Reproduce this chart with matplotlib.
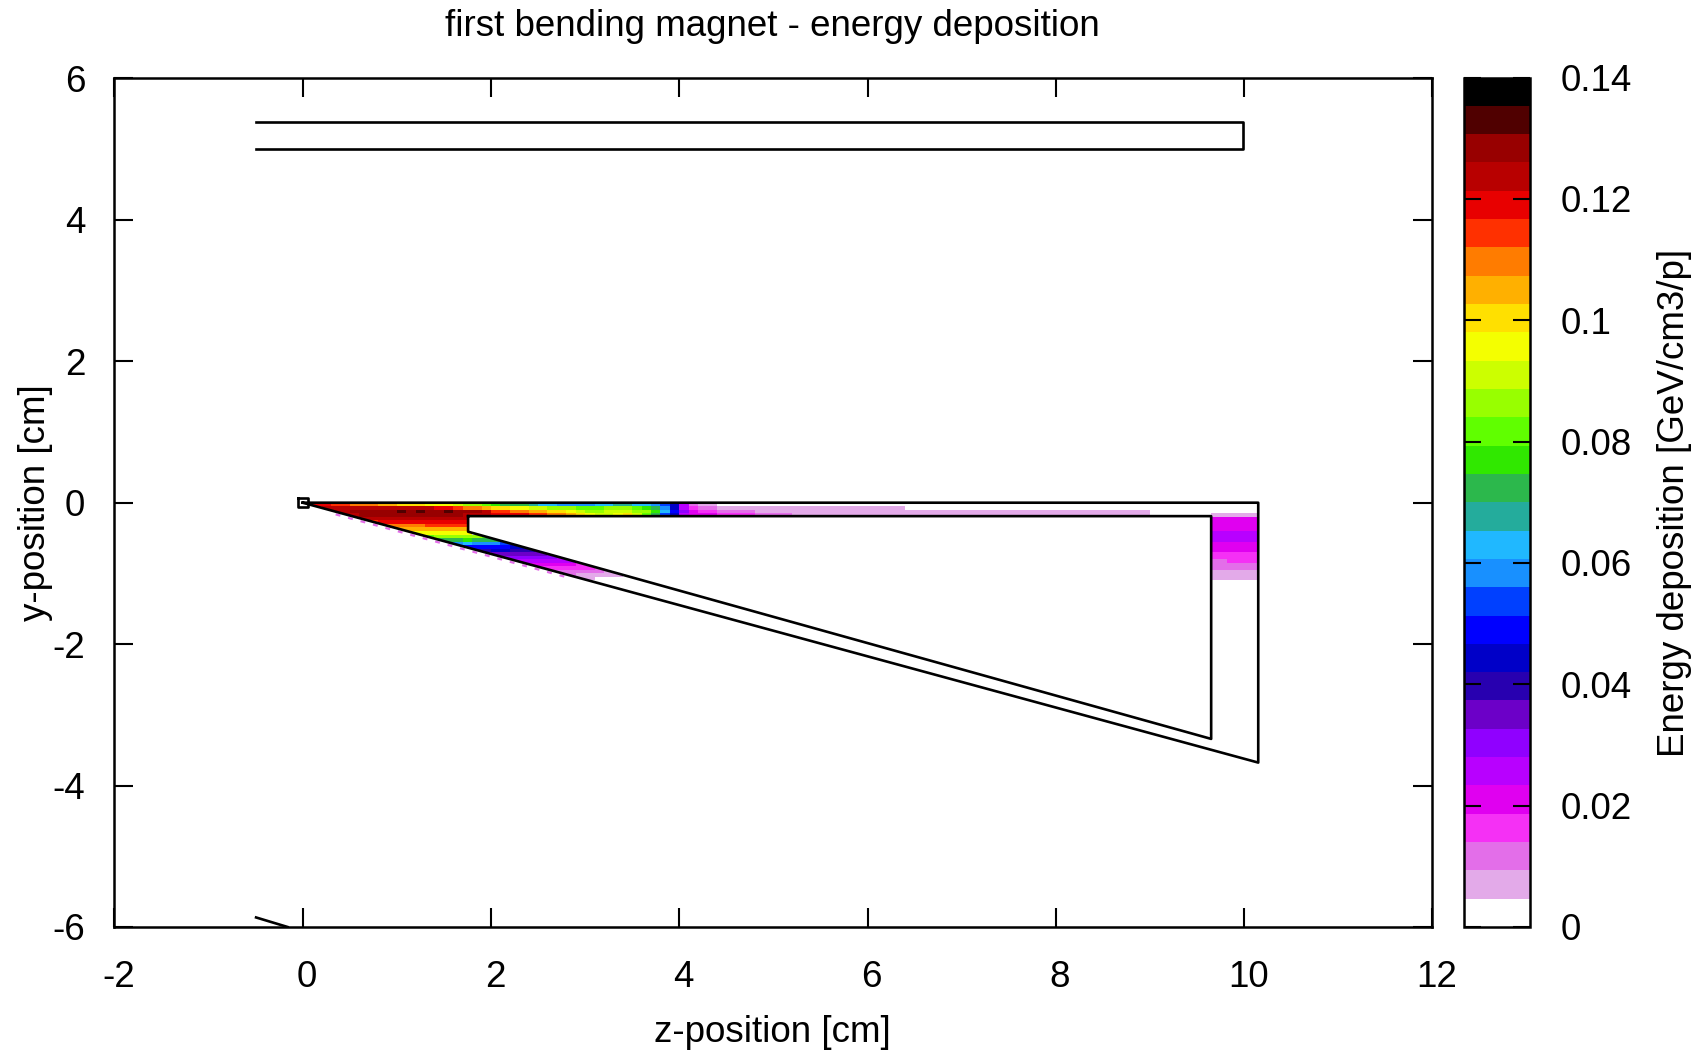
import numpy as np
import matplotlib
matplotlib.use('Agg')
import matplotlib.pyplot as plt
from matplotlib.colors import ListedColormap, BoundaryNorm
from matplotlib.patches import Polygon
from matplotlib.transforms import ScaledTranslation

plt.rcParams['font.family'] = ['Liberation Sans', 'DejaVu Sans']
plt.rcParams['axes.unicode_minus'] = False

# ========== palette of the colour box, bottom to top ==========
level_colors = ['#ffffff', '#e3aae9', '#e36ee9', '#f530f5', '#e000f0', '#b800ff',
                '#9000ff', '#6c00c8', '#2800b0', '#0000c8', '#0000ff', '#0040ff',
                '#1890ff', '#20b8ff', '#24ac9c', '#2cb84c', '#30e800', '#60ff00',
                '#98ff00', '#ccff00', '#f4ff00', '#ffe000', '#ffb000', '#ff7c00',
                '#ff3000', '#e80000', '#b80000', '#980000', '#500000', '#000000']
level_edges = np.linspace(0, 0.14, 31)
cbar_ticks = [0, 0.02, 0.04, 0.06, 0.08, 0.1, 0.12, 0.14]
cbar_ticklabels = ['0', '0.02', '0.04', '0.06', '0.08', '0.1', '0.12', '0.14']

# ========== energy deposition, in 1e-3 GeV/cm3/p ==========
# front part: dz = 0.1 from z = 0, dy = 0.05 from y = 0 downwards
front_first_col = [0, 1, 3, 4, 5, 6, 8, 9, 11, 12, 13, 15, 16, 17, 19, 20, 21, 22, 24, 25, 27, 29]
front_rows = [
    [115, 118, 118, 115, 115, 112, 110, 108, 105, 103, 100, 100, 98, 97, 96, 95, 92, 88, 84, 80, 76,
     74, 72, 70, 68, 64, 62, 60, 58, 60, 60, 62, 64, 66, 66, 64, 62, 60, 52, 44, 24, 14],
    [120, 122, 122, 122, 124, 124, 124, 124, 124, 124, 122, 122, 122, 120, 118, 116, 112, 108, 104,
     100, 98, 96, 94, 92, 90, 88, 86, 84, 82, 80, 82, 84, 86, 86, 82, 78, 70, 60, 46, 26, 16],
    [124, 124, 126, 128, 128, 130, 130, 134, 130, 134, 130, 130, 134, 130, 128, 126, 122, 115, 113,
     110, 108, 106, 104, 102, 98, 95, 90, 88, 88, 90, 92, 92, 88, 84, 76, 64, 50, 30, 20],
    [122, 124, 126, 126, 126, 128, 128, 128, 128, 128, 128, 126, 126, 124, 124, 122, 120, 120, 119,
     119, 116, 114, 112, 108, 104, 100, 96, 90, 92, 96, 98, 92, 80, 70, 56, 44, 26, 21],
    [120, 122, 122, 122, 122, 122, 124, 124, 124, 124, 124, 124, 124],
    [114, 116, 118, 118, 120, 120, 120, 120, 118, 118, 118, 118],
    [108, 110, 112, 112, 112, 113, 113, 113, 113, 113],
    [100, 103, 104, 104, 105, 105, 106, 106, 106],
    [94, 94, 95, 95, 96, 96, 97],
    [80, 82, 84, 85, 86, 86, 84, 80],
    [68, 70, 72, 74, 75, 74, 72, 70, 68],
    [58, 60, 61, 60, 60, 58, 56, 54],
    [46, 48, 50, 50, 50, 48, 46, 44, 42],
    [36, 38, 40, 42, 42, 40, 40, 38],
    [30, 34, 36, 36, 36, 34, 34, 32],
    [28, 30, 32, 32, 32, 30, 30, 28, 28],
    [24, 26, 26, 28, 26, 26, 24, 24, 22],
    [21, 22, 22, 22, 21, 21, 19, 18, 17],
    [18, 18, 17, 17, 16, 16, 15, 12, 12],
    [14, 14, 13, 13, 12, 12, 12, 8, 8],
    [10, 10, 8, 8, 8, 8, 7],
    [7, 7],
]

# channel behind it: dz = 0.2 from z = 4.2, same rows
tail_rows = [
    [7, 0, 0, 0, 0, 0, 0, 0, 0, 0, 0, 0, 0, 0, 0, 0, 0, 0, 0, 0, 0, 0, 0, 0],
    [12, 7, 7, 7, 7, 7, 7, 7, 7, 7, 7, 0, 0, 0, 0, 0, 0, 0, 0, 0, 0, 0, 0, 0],
    [16, 12, 12, 7, 7, 7, 7, 7, 7, 7, 7, 7, 7, 7, 7, 7, 7, 7, 7, 7, 7, 7, 7, 7],
    [21, 16, 16, 12, 12, 7, 7, 7, 7, 7, 7, 7, 7, 7, 7, 7, 7, 7, 7, 7, 7, 7, 7, 7],
]

# exit of the magnet, y from -0.15 to -1.1
exit_rows = [
    [7, 7, 7], [21, 21, 21], [21, 21, 21], [21, 21, 21], [21, 21, 21],
    [26, 26, 26], [26, 26, 26], [26, 26, 26], [21, 21, 21], [21, 21, 21],
    [21, 21, 21], [16, 16, 16], [16, 16, 16], [12, 16, 16], [12, 12, 12],
    [12, 12, 12], [7, 7, 7], [7, 7, 7], [7, 7, 7],
]

# ========== outlines ==========
outer_z = [0, 10.15, 10.15, 0]
outer_y = [0, 0, -3.675, 0]
inner_z = [1.757, 9.65, 9.65, 1.757, 1.757]
inner_y = [-0.19, -0.19, -3.34, -0.41, -0.19]
tip_z = [-0.047, 0.06, 0.06, -0.047, -0.047]
tip_y = [0.06, 0.06, -0.057, -0.057, 0.06]
top_z = [-0.5, 9.99, 9.99, -0.5]
top_y = [5.38, 5.38, 5.0, 5.0]
foot_z = [-0.495, -0.16]
foot_y = [-5.865, -6.0]
# pink specks poking out below the wedge
speck_z = [0.35, 2.85]
speck_y = [-0.165, -1.07]

# ========== figure ==========
W, H = 1708, 1052
fig = plt.figure(figsize=(W / 100, H / 100), dpi=100)
ax = fig.add_axes([114.4 / W, 1 - 927 / H, 1318 / W, 848.6 / H])

cmap = ListedColormap(level_colors)
norm = BoundaryNorm(level_edges, cmap.N)
clip = Polygon(np.column_stack([outer_z, outer_y]), closed=True, transform=ax.transData)

front = np.zeros((len(front_rows), 42))
for i, row in enumerate(front_rows):
    c = front_first_col[i]
    front[i, c:c + len(row)] = row
dy = 0.05
front_ye = -dy * np.arange(len(front_rows) + 1)
mesh = ax.pcolormesh(0.1 * np.arange(43), front_ye, np.ma.masked_equal(front, 0) / 1000,
                     cmap=cmap, norm=norm, shading='flat', zorder=1)
mesh.set_clip_path(clip)

tail = np.array(tail_rows)
tail_mesh = ax.pcolormesh(4.2 + 0.2 * np.arange(tail.shape[1] + 1), -dy * np.arange(tail.shape[0] + 1),
                          np.ma.masked_equal(tail, 0) / 1000, cmap=cmap, norm=norm,
                          shading='flat', zorder=1)

out = np.array(exit_rows)
ax.pcolormesh(np.linspace(9.65, 10.15, out.shape[1] + 1), -0.15 - dy * np.arange(out.shape[0] + 1),
              out / 1000, cmap=cmap, norm=norm, shading='flat', zorder=1)

lw = 1.9
ax.plot(speck_z, speck_y, color='#e36ee9', lw=1.6, linestyle=(0, (2.2, 3.6)), zorder=1)
ax.fill(inner_z, inner_y, color='white', zorder=2)
ax.plot(outer_z, outer_y, color='black', lw=lw, zorder=3)
ax.plot(inner_z, inner_y, color='black', lw=lw, zorder=3)
ax.plot(tip_z, tip_y, color='black', lw=lw, zorder=3)
ax.plot(top_z, top_y, color='black', lw=lw, zorder=3)
ax.plot(foot_z, foot_y, color='black', lw=lw, zorder=3)

ax.set_xlim(-2, 12)
ax.set_ylim(-6, 6)
ax.set_xticks(np.arange(-2, 13, 2))
ax.set_yticks(np.arange(-6, 7, 2))
ax.tick_params(axis='x', direction='in', top=True, length=14, width=1.5, labelsize=26.5, pad=24)
ax.tick_params(axis='y', direction='in', right=True, length=14, width=1.5, labelsize=26.5, pad=21)
ax.set_axisbelow(False)
for s in ax.spines.values():
    s.set_linewidth(1.8)
shift = ScaledTranslation(4 / 100, 0, fig.dpi_scale_trans)
for t in ax.get_xticklabels():
    t.set_transform(t.get_transform() + shift)

# colour box
cax = fig.add_axes([1464 / W, 1 - 927 / H, 66.5 / W, 849.5 / H])
sm = plt.cm.ScalarMappable(norm=norm, cmap=cmap)
cbar = fig.colorbar(sm, cax=cax, spacing='proportional', ticks=cbar_ticks)
cbar.ax.set_yticklabels(cbar_ticklabels)
cbar.ax.minorticks_off()
cbar.ax.tick_params(direction='in', left=True, right=True, length=12, width=1.5, labelsize=26.5, pad=22)
cbar.outline.set_linewidth(1.8)

fig.text(772 / W, 1 - 26 / H, 'first bending magnet - energy deposition', fontsize=26.5, ha='center', va='center')
fig.text(772 / W, 1 - 1033 / H, 'z-position [cm]', fontsize=26.5, ha='center', va='center')
fig.text(36 / W, 1 - 503 / H, 'y-position [cm]', fontsize=26.5, ha='center', va='center', rotation=90)
fig.text(1675 / W, 1 - 503 / H, 'Energy deposition [GeV/cm3/p]', fontsize=26.5, ha='center', va='center', rotation=90)

plt.savefig('out.png', dpi=100)
